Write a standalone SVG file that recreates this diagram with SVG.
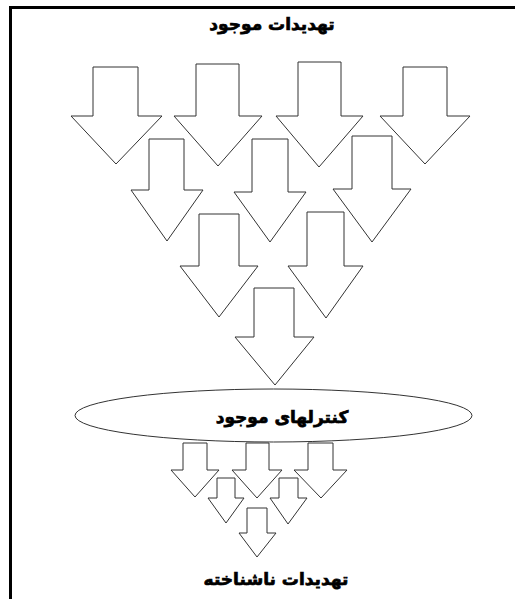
<svg xmlns="http://www.w3.org/2000/svg" width="515" height="599" viewBox="0 0 515 599">
<style>
.ar{fill:#fff;stroke:#333;stroke-width:1}
.t{font-family:"DejaVu Sans",sans-serif;font-weight:bold;font-size:17px;fill:#000;stroke:#000;stroke-width:0.7;text-anchor:middle}
</style>
<rect x="0" y="0" width="515" height="599" fill="#fff"/>
<g id="frame" stroke="#000" stroke-width="3" fill="none">
<line x1="10.5" y1="7.5" x2="515" y2="7.5"/>
<line x1="10.5" y1="6" x2="10.5" y2="599"/>
</g>
<g id="title-top"><text class="t" x="272" y="30" direction="rtl">تهدیدات موجود</text></g>
<g id="arrows-top">
<g id="a1"><polygon class="ar" points="93,67 138,67 138,116 162,116 116,164 71,116 93,116"/></g>
<g id="a2"><polygon class="ar" points="196,64 239,64 239,116 262,116 218,166 174,116 196,116"/></g>
<g id="a3"><polygon class="ar" points="298,62 341,62 341,116 363,116 319,167 276,116 298,116"/></g>
<g id="a4"><polygon class="ar" points="403,67 447,67 447,116 470,116 425,164 380,116 403,116"/></g>
<g id="a5"><polygon class="ar" points="149,139 184,139 184,190 203,190 167,241 131,190 149,190"/></g>
<g id="a6"><polygon class="ar" points="252,139 288,139 288,192 306,192 270,242 234,192 252,192"/></g>
<g id="a7"><polygon class="ar" points="352,136 392,136 392,189 411,189 372,242 333,189 352,189"/></g>
<g id="a8"><polygon class="ar" points="199,214 239,214 239,266 258,266 219,317 180,266 199,266"/></g>
<g id="a9"><polygon class="ar" points="307,212 344,212 344,266 363,266 326,318 288,266 307,266"/></g>
<g id="a10"><polygon class="ar" points="254,288 294,288 294,337 314,337 275,385 235,337 254,337"/></g>
</g>
<g id="controls">
<ellipse cx="273.5" cy="415.5" rx="198.5" ry="26.5" fill="#fff" stroke="#333" stroke-width="1"/>
<text class="t" x="282" y="423" direction="rtl">کنترلهای موجود</text>
</g>
<g id="arrows-bottom">
<g id="b1"><polygon class="ar" points="183,443 207,443 207,470 219,470 195,497 171,470 183,470"/></g>
<g id="b2"><polygon class="ar" points="246,443 269,443 269,470 282,470 257,498 232,470 246,470"/></g>
<g id="b3"><polygon class="ar" points="308,443 333,443 333,470 347,470 321,498 294,470 308,470"/></g>
<g id="b4"><polygon class="ar" points="217,478 235,478 235,498 244,498 226,523 208,498 217,498"/></g>
<g id="b5"><polygon class="ar" points="279,478 298,478 298,498 307,498 288,524 270,498 279,498"/></g>
<g id="b6"><polygon class="ar" points="247,508 267,508 267,533 276,533 257,557 239,533 247,533"/></g>
</g>
<g id="title-bottom"><text class="t" x="276" y="585" direction="rtl">تهدیدات ناشناخته</text></g>
</svg>
